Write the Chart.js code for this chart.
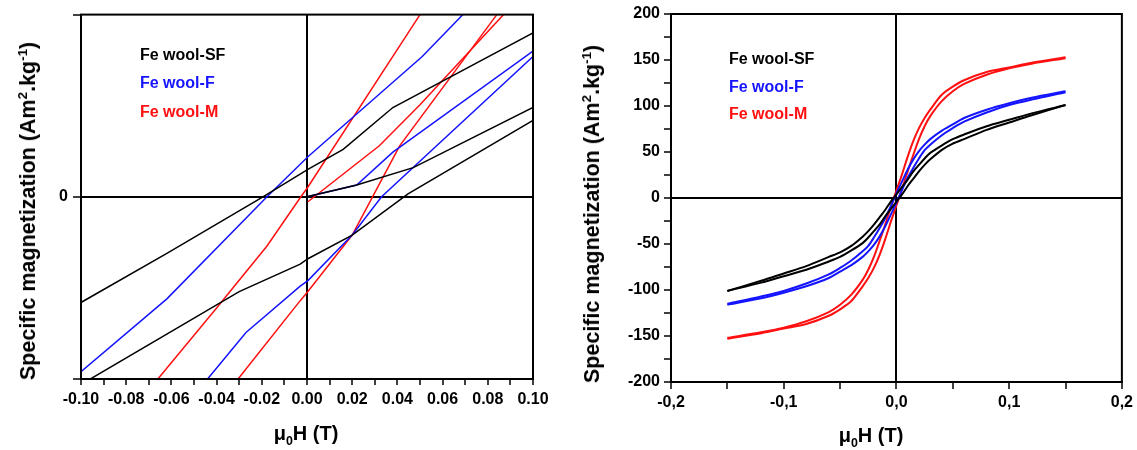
<!DOCTYPE html>
<html>
<head>
<meta charset="utf-8">
<script src="https://cdn.jsdelivr.net/npm/chart.js@4.4.0/dist/chart.umd.min.js"></script>
<style>
  body { margin: 0; background: #fff; width: 1137px; height: 450px; position: relative; overflow: hidden;
         font-family: 'Liberation Sans', Arial, sans-serif; }
  .panel { position: absolute; top: 0; height: 450px; }
  .lab { position: absolute; font-weight: bold; white-space: nowrap; color: #000; }
  .legend { font-size: 16px; line-height: 18px; }
  .xtitle { font-size: 20px; line-height: 24px; transform: translateX(-50%); }
  .ytitle { font-size: 21.5px; line-height: 24px; transform: translate(-50%, -50%) rotate(-90deg); }
  sub, sup { font-size: 62%; line-height: 0; }
</style>
</head>
<body>
<div class="panel" style="left:0;width:560px"><canvas id="zoomChart"></canvas></div>
<div class="panel" style="left:560px;width:577px"><canvas id="fullChart"></canvas></div>

<div class="lab ytitle" style="left:28px;top:211px">Specific magnetization (Am<sup>2</sup>.kg<sup>-1</sup>)</div>
<div class="lab ytitle" style="left:592px;top:214px">Specific magnetization (Am<sup>2</sup>.kg<sup>-1</sup>)</div>
<div class="lab xtitle" style="left:306px;top:421px">&mu;<sub>0</sub>H (T)</div>
<div class="lab xtitle" style="left:871px;top:423px">&mu;<sub>0</sub>H (T)</div>

<div class="lab legend" style="left:140px;top:46px;color:#000">Fe wool-SF</div>
<div class="lab legend" style="left:140px;top:74px;color:#1414ff">Fe wool-F</div>
<div class="lab legend" style="left:140px;top:103px;color:#ff1010">Fe wool-M</div>
<div class="lab legend" style="left:729px;top:50px;color:#000">Fe wool-SF</div>
<div class="lab legend" style="left:729px;top:78px;color:#1414ff">Fe wool-F</div>
<div class="lab legend" style="left:729px;top:105px;color:#ff1010">Fe wool-M</div>

<script>
// Zoomed loops (left panel): [field T, magnetization in zoom units]
const sfUpperZoom = [[-0.100, -5.8], [-0.062, -3.1], [-0.0195, 0], [0.0004, 1.5], [0.016, 2.6], [0.038, 4.9], [0.100, 9.0]];
const sfLowerZoom = [[-0.100, -10.3], [-0.030, -5.2], [-0.003, -3.7], [0.0004, -3.4], [0.020, -2.1], [0.0447, 0.16], [0.100, 4.2]];
const sfInitZoom = [[0, 0], [0.022, 0.65], [0.047, 1.6], [0.100, 4.9]];
const fUpperZoom = [[-0.100, -9.6], [-0.062, -5.6], [-0.0177, 0], [0.0004, 2.2], [0.051, 7.7], [0.069, 10.0], [0.100, 14.0]];
const fLowerZoom = [[-0.051, -11.2], [-0.044, -10.0], [-0.027, -7.45], [-0.003, -4.9], [0.0004, -4.6], [0.020, -2.1], [0.033, 0], [0.100, 7.7]];
const fInitZoom = [[0, 0], [0.022, 0.65], [0.038, 2.45], [0.100, 8.0]];
const mUpperZoom = [[-0.074, -11.1], [-0.066, -10.0], [-0.040, -6.1], [-0.0177, -2.7], [-0.0027, 0], [0.0004, 0.54], [0.050, 10.0], [0.054, 10.8]];
const mLowerZoom = [[-0.036, -10.9], [-0.0305, -10.0], [-0.003, -5.7], [0.0004, -5.2], [0.020, -2.1], [0.029, 0], [0.041, 2.8], [0.084, 10.0], [0.088, 10.6]];
const mInitZoom = [[0.0004, -0.27], [0.032, 2.8], [0.050, 5.05], [0.087, 10.0], [0.092, 10.9]];

// Full loops (right panel)
const fieldFull = [-0.15, -0.12, -0.10, -0.08, -0.06, -0.05, -0.04, -0.03, -0.025, -0.02, -0.015, -0.01, -0.005, 0,
                   0.005, 0.01, 0.015, 0.02, 0.025, 0.03, 0.04, 0.05, 0.06, 0.08, 0.10, 0.12, 0.15];
const sfUpper = [-101, -90, -82, -74, -64, -59, -52, -42, -36, -29, -21, -13, -4, 4, 12, 20, 29, 36, 43, 49, 57, 64, 69, 78, 85, 92, 101];
const sfLower = [-101, -92, -85, -78, -69, -64, -57, -49, -43, -36, -29, -20, -12, -4, 4, 13, 21, 29, 36, 42, 52, 59, 64, 74, 82, 90, 101];
const fUpper = [-115, -107, -101, -93, -83, -76, -68, -58, -52, -43, -33, -22, -9, 5, 18, 31, 42, 51, 58, 64, 73, 80, 87, 96, 103, 109, 116];
const fLower = [-116, -109, -103, -96, -87, -80, -73, -64, -58, -51, -42, -31, -18, -5, 9, 22, 33, 43, 52, 58, 68, 76, 83, 93, 101, 107, 115];
const mUpper = [-152, -146, -141, -134, -124, -116, -105, -89, -78, -64, -47, -29, -10, 8, 26, 45, 62, 76, 87, 96, 112, 121, 128, 137, 142, 147, 153];
const mLower = [-153, -147, -142, -137, -128, -121, -112, -96, -87, -76, -62, -45, -26, -8, 10, 29, 47, 64, 78, 89, 105, 116, 124, 134, 141, 146, 152];

const FONT = "'Liberation Sans', Arial, sans-serif";
const BLACK = '#000000';
const BLUE = '#1414ff';
const RED = '#ff1010';

function pairs(points) {
    return points.map(p => ({ x: p[0], y: p[1] }));
}

function zip(xs, ys) {
    return xs.map((x, i) => ({ x: x, y: ys[i] }));
}

function lineSet(data, color, width, tension) {
    return {
        data: data,
        borderColor: color,
        backgroundColor: color,
        borderWidth: width,
        showLine: true,
        pointRadius: 0,
        tension: tension,
        fill: false
    };
}

// box round the plot area
const framePlugin = {
    id: 'frame',
    afterDatasetsDraw(chart) {
        const a = chart.chartArea;
        const ctx = chart.ctx;
        ctx.save();
        ctx.strokeStyle = '#000';
        ctx.lineWidth = 2;
        ctx.strokeRect(a.left, a.top, a.right - a.left, a.bottom - a.top);
        ctx.restore();
    }
};

function axis(min, max, step, label, tickLen, pad, fit) {
    return {
        type: 'linear',
        min: min,
        max: max,
        ticks: {
            stepSize: step,
            autoSkip: false,
            maxRotation: 0,
            color: '#000',
            padding: pad,
            font: { family: FONT, size: 16, weight: 'bold' },
            callback: label
        },
        grid: {
            color: c => (c.tick && Math.abs(c.tick.value) < 1e-9) ? '#000' : 'rgba(0,0,0,0)',
            lineWidth: 2,
            tickColor: '#000',
            tickLength: tickLen,
            tickWidth: 1.5
        },
        border: { color: '#000', width: 2 },
        afterFit: fit
    };
}

function baseOptions(padding, scales) {
    return {
        responsive: true,
        maintainAspectRatio: false,
        animation: false,
        layout: { padding: padding },
        plugins: { legend: { display: false }, tooltip: { enabled: false } },
        scales: scales
    };
}

// left: zoom on the loops
new Chart(document.getElementById('zoomChart'), {
    type: 'scatter',
    data: {
        datasets: [
            lineSet(pairs(sfUpperZoom), BLACK, 1.5, 0),
            lineSet(pairs(sfLowerZoom), BLACK, 1.5, 0),
            lineSet(pairs(sfInitZoom), BLACK, 1.5, 0),
            lineSet(pairs(fUpperZoom), BLUE, 1.5, 0),
            lineSet(pairs(fLowerZoom), BLUE, 1.5, 0),
            lineSet(pairs(fInitZoom), BLUE, 1.5, 0),
            lineSet(pairs(mUpperZoom), RED, 1.5, 0),
            lineSet(pairs(mLowerZoom), RED, 1.5, 0),
            lineSet(pairs(mInitZoom), RED, 1.5, 0)
        ]
    },
    options: baseOptions({ top: 11, right: 27, left: 0, bottom: 0 }, {
        x: axis(-0.1, 0.1, 0.01, v => {
            const k = Math.round(v * 100);
            return k % 2 === 0 ? (k / 100).toFixed(2) : '';
        }, 6, 5, s => { s.height = 71; }),
        y: axis(-10, 10, 10, v => Math.abs(v) < 1e-9 ? '0' : '', 8, 5, s => { s.width = 81; })
    }),
    plugins: [framePlugin]
});

// right: full loops
new Chart(document.getElementById('fullChart'), {
    type: 'scatter',
    data: {
        datasets: [
            lineSet(zip(fieldFull, sfUpper), BLACK, 2, 0.3),
            lineSet(zip(fieldFull, sfLower), BLACK, 2, 0.3),
            lineSet(zip(fieldFull, fUpper), BLUE, 2, 0.3),
            lineSet(zip(fieldFull, fLower), BLUE, 2, 0.3),
            lineSet(zip(fieldFull, mUpper), RED, 2, 0.3),
            lineSet(zip(fieldFull, mLower), RED, 2, 0.3)
        ]
    },
    options: baseOptions({ top: 14, right: 14, left: 0, bottom: 0 }, {
        x: axis(-0.2, 0.2, 0.05, v => {
            const k = Math.round(v * 20);
            return k % 2 === 0 ? (k / 20).toFixed(1).replace('.', ',') : '';
        }, 7, 4, s => { s.height = 68; }),
        y: axis(-200, 200, 25, v => Math.round(v) % 50 === 0 ? String(Math.round(v)) : '', 7, 4, s => { s.width = 111; })
    }),
    plugins: [framePlugin]
});
</script>
</body>
</html>
